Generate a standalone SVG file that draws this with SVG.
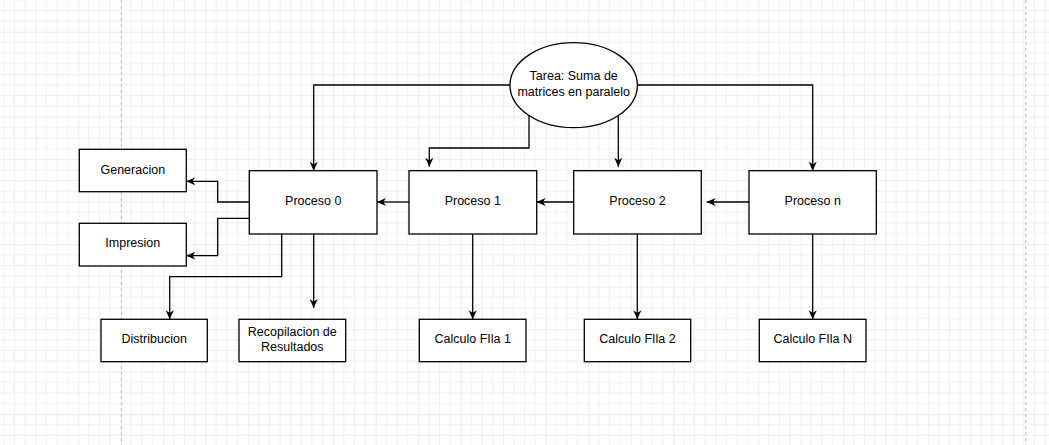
<svg xmlns="http://www.w3.org/2000/svg" width="1049" height="445" viewBox="0 0 1049 445">
<style>
.box{fill:#fff;stroke:#000;stroke-width:1.3}
.lbl{font-family:"Liberation Sans",Arial,sans-serif;font-size:12.5px;fill:#000;text-anchor:middle;dominant-baseline:central}
.conn path{fill:none;stroke:#000;stroke-width:1.3;marker-end:url(#arr)}
</style>
<defs>
<pattern id="grid" patternUnits="userSpaceOnUse" x="35.7" y="31.7" width="42.5" height="42.5">
<path d="M10.625,0V42.5M21.25,0V42.5M31.875,0V42.5M0,10.625H42.5M0,21.25H42.5M0,31.875H42.5" stroke="#efefef" stroke-width="1" fill="none"/>
<path d="M0,0V42.5M0,0H42.5" stroke="#dadada" stroke-width="1" fill="none"/>
</pattern>
<marker id="arr" markerUnits="userSpaceOnUse" viewBox="0 0 10 10" refX="10" refY="5" markerWidth="9" markerHeight="9" orient="auto">
<path d="M0,0.5 L10,5 L0,9.5 L3,5 Z" fill="#000"/>
</marker>
</defs>
<rect width="1049" height="445" fill="#fff"/>
<rect width="1049" height="445" fill="url(#grid)"/>
<path d="M121.5,0V445M1025.7,0V445" stroke="#c4c4c4" stroke-width="1.2" stroke-dasharray="3,3" fill="none"/>

<g id="connectors" class="conn">
<path d="M510,85H313.7V170.7"/>
<path d="M529,115.5V148H429.3V166.7"/>
<path d="M618.3,115.5V166.7"/>
<path d="M637.3,85H812.7V170.7"/>
<path d="M249.3,202H217.7V181.3H186.3"/>
<path d="M249.3,218.3H217.7V255.7H186.3"/>
<path d="M281.7,234V276.7H169.7V319.3"/>
<path d="M313.7,234V308"/>
<path d="M409,202H377"/>
<path d="M573.7,202H536.7"/>
<path d="M749,202H706.7"/>
<path d="M472.7,234V319.3"/>
<path d="M637.3,234V319.3"/>
<path d="M812.7,234V319.3"/>
</g>

<g id="tarea">
<ellipse class="box" cx="573.7" cy="85.2" rx="63.7" ry="42.5"/>
<text class="lbl" x="573.7" y="76">Tarea: Suma de</text>
<text class="lbl" x="573.7" y="92.3">matrices en paralelo</text>
</g>
<g id="generacion">
<rect class="box" x="79.3" y="149.3" width="107" height="42.4"/>
<text class="lbl" x="132.8" y="169.5">Generacion</text>
</g>
<g id="impresion">
<rect class="box" x="79.3" y="223.3" width="107" height="42.7"/>
<text class="lbl" x="132.8" y="243">Impresion</text>
</g>
<g id="proceso0">
<rect class="box" x="249.3" y="170.7" width="127.7" height="63.3"/>
<text class="lbl" x="313.2" y="201">Proceso 0</text>
</g>
<g id="proceso1">
<rect class="box" x="409" y="170.7" width="127.7" height="63.3"/>
<text class="lbl" x="472.8" y="201">Proceso 1</text>
</g>
<g id="proceso2">
<rect class="box" x="573.7" y="170.7" width="127.6" height="63.3"/>
<text class="lbl" x="637.5" y="201">Proceso 2</text>
</g>
<g id="proceson">
<rect class="box" x="749" y="170.7" width="127.3" height="63.3"/>
<text class="lbl" x="812.7" y="201">Proceso n</text>
</g>
<g id="distribucion">
<rect class="box" x="101" y="319.3" width="106.3" height="42.4"/>
<text class="lbl" x="154.2" y="339">Distribucion</text>
</g>
<g id="recopilacion">
<rect class="box" x="239" y="319.3" width="106.7" height="42.4"/>
<text class="lbl" x="292.3" y="331.7">Recopilacion de</text>
<text class="lbl" x="292.3" y="346.7">Resultados</text>
</g>
<g id="calculo1">
<rect class="box" x="419.3" y="319.3" width="106.7" height="42.4"/>
<text class="lbl" x="472.7" y="339">Calculo FIla 1</text>
</g>
<g id="calculo2">
<rect class="box" x="584.3" y="319.3" width="106.4" height="42.4"/>
<text class="lbl" x="637.5" y="339">Calculo FIla 2</text>
</g>
<g id="calculon">
<rect class="box" x="759.3" y="319.3" width="106.7" height="42.4"/>
<text class="lbl" x="812.7" y="339">Calculo FIla N</text>
</g>
</svg>
